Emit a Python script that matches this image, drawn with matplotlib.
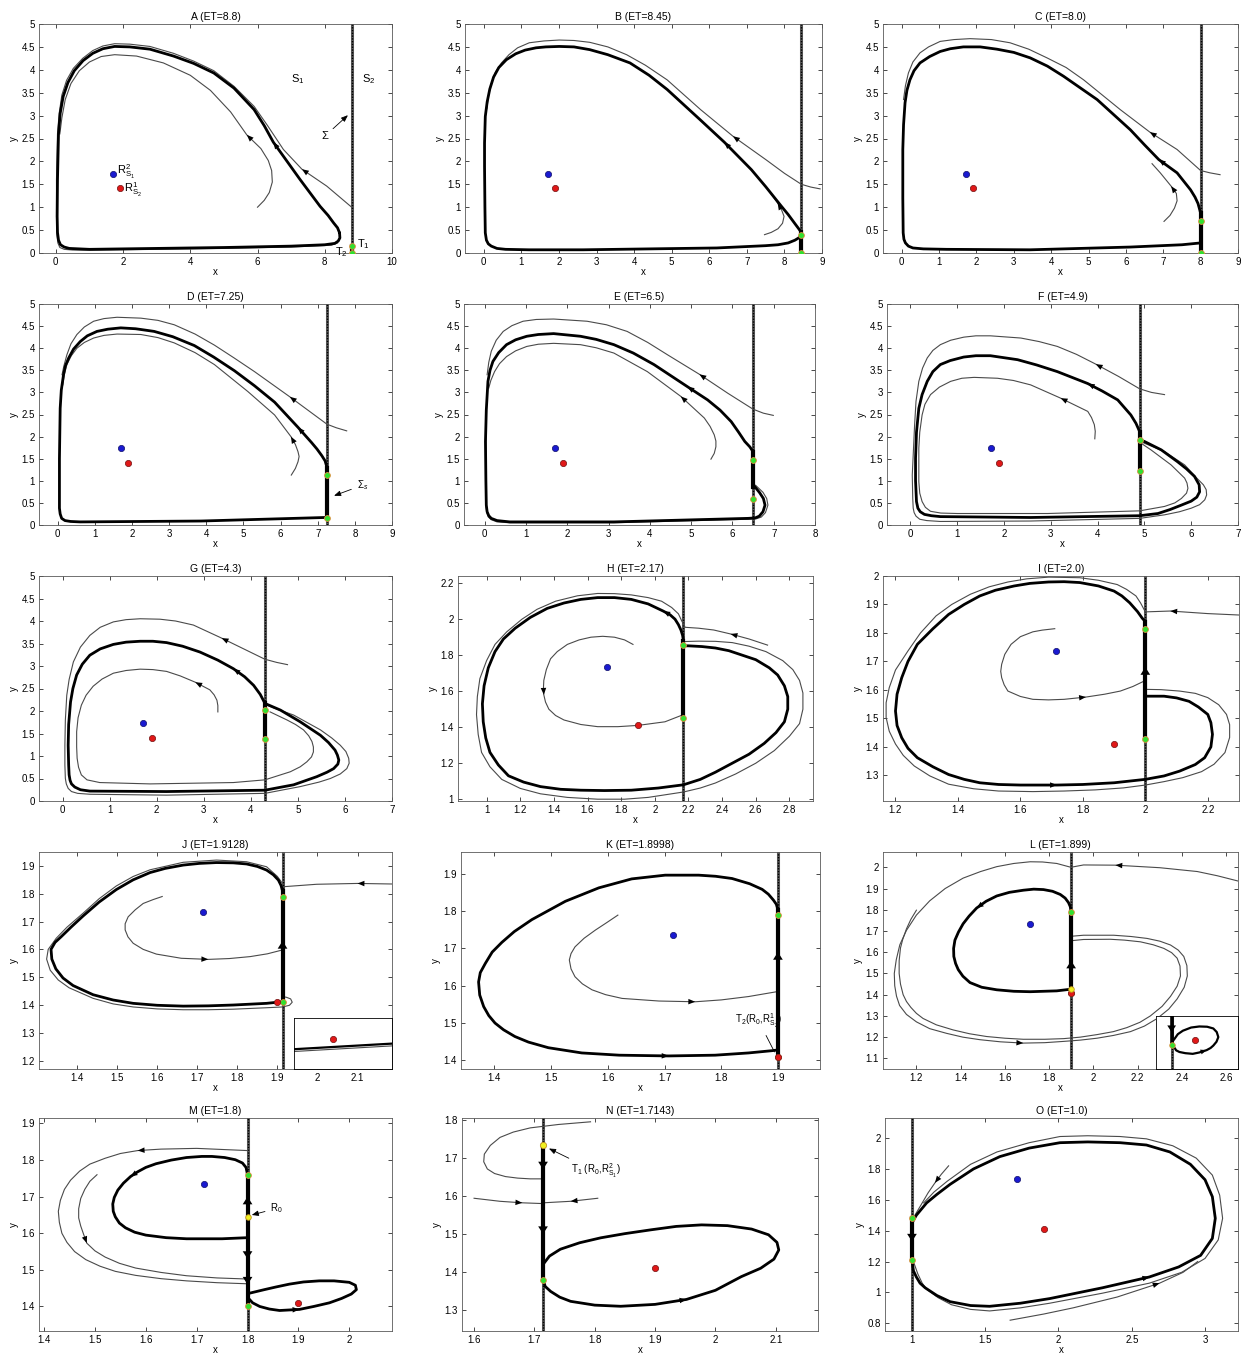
import matplotlib
matplotlib.use("Agg")
import matplotlib.pyplot as plt
from matplotlib.ticker import FuncFormatter

plt.rcParams['font.family'] = ['Liberation Sans', 'DejaVu Sans']
plt.rcParams['mathtext.fontset'] = 'custom'
plt.rcParams['mathtext.rm'] = 'Liberation Sans'
plt.rcParams['mathtext.it'] = 'Liberation Sans:italic'

# equilibria (blue = R_S1, red = R_S2)
R_S1 = (1.715, 1.735)
R_S2 = (1.9, 1.41)

Y05 = [0, 0.5, 1, 1.5, 2, 2.5, 3, 3.5, 4, 4.5, 5]

# ---------------- A ----------------
A_ET = 8.8
A_cycle = [(8.44, 0.44), (8.38, 0.55), (8.26, 0.66), (8.1, 0.82), (7.86, 1.02), (7.27, 1.6), (6.47, 2.42),
           (6.2, 2.78), (5.9, 3.13), (5.3, 3.6), (4.7, 3.93), (4.1, 4.14), (3.5, 4.3), (2.8, 4.45), (2.2, 4.5),
           (1.75, 4.51), (1.4, 4.46), (1.1, 4.36), (0.81, 4.2), (0.55, 3.98), (0.36, 3.72), (0.22, 3.42),
           (0.13, 3.05), (0.08, 2.6), (0.05, 1.6), (0.04, 0.8), (0.05, 0.45), (0.08, 0.28), (0.14, 0.18),
           (0.25, 0.13), (0.4, 0.1), (0.7, 0.09), (1.0, 0.08), (3.0, 0.1), (5.0, 0.12), (7.0, 0.15),
           (8.0, 0.18), (8.3, 0.21), (8.4, 0.26), (8.45, 0.33), (8.44, 0.44)]
A_outer = [(8.8, 1.0), (8.06, 1.46), (7.32, 1.83), (6.77, 2.26), (6.3, 2.78), (5.9, 3.2), (5.3, 3.64),
           (4.7, 3.98), (4.1, 4.19), (3.5, 4.36), (2.8, 4.51), (2.2, 4.56), (1.75, 4.57), (1.4, 4.52),
           (1.1, 4.42), (0.8, 4.25), (0.52, 4.03), (0.32, 3.77), (0.18, 3.45), (0.1, 3.05), (0.05, 2.6),
           (0.02, 1.6), (0.02, 0.8), (0.03, 0.42), (0.06, 0.22), (0.12, 0.12), (0.25, 0.08), (0.5, 0.065),
           (1.0, 0.06), (3.0, 0.08), (5.0, 0.1), (7.0, 0.13), (8.2, 0.17), (8.38, 0.22)]
A_inner = [(6.0, 1.0), (6.2, 1.15), (6.35, 1.32), (6.44, 1.55), (6.42, 1.8), (6.32, 2.02), (6.1, 2.28),
           (5.68, 2.58), (5.2, 3.08), (4.6, 3.55), (4.0, 3.88), (3.2, 4.15), (2.4, 4.3), (1.75, 4.33),
           (1.35, 4.29), (1.0, 4.17), (0.7, 3.98), (0.45, 3.7), (0.28, 3.35), (0.18, 2.95), (0.12, 2.6)]
A_slide = [(8.8, 0.0), (8.8, 0.15)]
A_green = [(8.8, 0.15), (8.8, 0.0)]

# ---------------- B ----------------
B_ET = 8.45
B_cycle = [(8.45, 0.45), (8.38, 0.53), (8.28, 0.64), (8.1, 0.84), (7.92, 1.02), (7.5, 1.45), (7.12, 1.82),
           (6.4, 2.42), (5.77, 2.9), (4.88, 3.57), (4.4, 3.88), (3.89, 4.15), (3.3, 4.33), (2.82, 4.44),
           (2.4, 4.5), (2.01, 4.51), (1.65, 4.5), (1.39, 4.48), (1.1, 4.43), (0.85, 4.35), (0.6, 4.22),
           (0.4, 4.05), (0.26, 3.84), (0.16, 3.58), (0.09, 3.3), (0.04, 2.98), (0.02, 2.4), (0.02, 1.89),
           (0.03, 1.0), (0.04, 0.44), (0.07, 0.28), (0.12, 0.2), (0.2, 0.15), (0.35, 0.1), (0.58, 0.08),
           (1.2, 0.07), (2.64, 0.07), (6.2, 0.11), (7.5, 0.16), (7.83, 0.18), (8.1, 0.22), (8.28, 0.28),
           (8.38, 0.33), (8.45, 0.4)]
B_outer = [(8.95, 1.4), (8.7, 1.44), (8.45, 1.5), (8.0, 1.74), (7.52, 2.03), (6.63, 2.55), (5.77, 3.13),
           (4.88, 3.78), (4.3, 4.1), (3.8, 4.33), (3.3, 4.5), (2.82, 4.6), (2.4, 4.64), (2.01, 4.65),
           (1.6, 4.63), (1.21, 4.59), (0.9, 4.48), (0.67, 4.33), (0.47, 4.15), (0.31, 3.95), (0.2, 3.7),
           (0.13, 3.45), (0.08, 3.15)]
B_inner = [(7.47, 0.4), (7.65, 0.45), (7.83, 0.53), (7.95, 0.65), (7.99, 0.8), (7.92, 0.95), (7.82, 1.09),
           (7.62, 1.32)]
B_slide = [(8.45, 0.0), (8.45, 0.45)]
B_green = [(8.45, 0.4), (8.45, 0.0)]

# ---------------- C ----------------
C_ET = 8.0
C_cycle = [(8.0, 0.87), (7.93, 1.08), (7.85, 1.22), (7.73, 1.38), (7.37, 1.75), (6.88, 2.04), (6.5, 2.36),
           (6.12, 2.69), (5.23, 3.35), (4.33, 3.86), (3.9, 4.08), (3.44, 4.26), (3.0, 4.38), (2.55, 4.45),
           (2.1, 4.5), (1.65, 4.5), (1.3, 4.46), (1.03, 4.4), (0.75, 4.29), (0.49, 4.15), (0.33, 3.98),
           (0.22, 3.78), (0.14, 3.55), (0.09, 3.28), (0.05, 2.8), (0.03, 2.26), (0.03, 1.2), (0.04, 0.44),
           (0.06, 0.3), (0.1, 0.22), (0.18, 0.15), (0.3, 0.11), (0.58, 0.09), (1.2, 0.08), (3.44, 0.07),
           (6.12, 0.13), (7.5, 0.18), (8.0, 0.22)]
C_outer = [(8.52, 1.71), (8.25, 1.75), (8.0, 1.8), (7.37, 2.26), (6.64, 2.64), (5.85, 3.13), (4.87, 3.78),
           (4.4, 4.05), (3.89, 4.26), (3.4, 4.45), (2.9, 4.59), (2.4, 4.66), (1.83, 4.68), (1.4, 4.66),
           (1.03, 4.62), (0.72, 4.5), (0.49, 4.37), (0.3, 4.17), (0.18, 3.93), (0.1, 3.65), (0.05, 3.35)]
C_inner = [(7.02, 0.69), (7.18, 0.82), (7.3, 0.98), (7.37, 1.14), (7.35, 1.3), (7.21, 1.46), (6.92, 1.75),
           (6.7, 1.95)]
C_slide = [(8.0, 0.0), (8.0, 0.87)]
C_green = [(8.0, 0.7), (8.0, 0.0)]

# ---------------- D ----------------
D_ET = 7.25
D_cycle = [(7.25, 1.3), (7.2, 1.45), (7.11, 1.57), (6.98, 1.72), (6.83, 1.87), (6.47, 2.21), (5.84, 2.78),
           (5.3, 3.15), (4.76, 3.49), (4.2, 3.8), (3.68, 4.06), (3.1, 4.26), (2.6, 4.38), (2.1, 4.44),
           (1.7, 4.46), (1.35, 4.43), (1.06, 4.38), (0.8, 4.28), (0.61, 4.15), (0.43, 3.98), (0.3, 3.78),
           (0.21, 3.6), (0.16, 3.4), (0.1, 3.05), (0.07, 2.64), (0.05, 1.5), (0.05, 0.38), (0.07, 0.25),
           (0.11, 0.15), (0.2, 0.1), (0.35, 0.08), (0.61, 0.07), (3.86, 0.09), (7.2, 0.17), (7.25, 0.17)]
D_outer = [(7.78, 2.13), (7.5, 2.2), (7.25, 2.28), (6.25, 2.9), (5.3, 3.47), (4.75, 3.78), (4.22, 4.07),
           (3.7, 4.32), (3.14, 4.53), (2.7, 4.63), (2.24, 4.68), (1.6, 4.7), (1.25, 4.67), (0.97, 4.61),
           (0.72, 4.48), (0.52, 4.31), (0.36, 4.1), (0.25, 3.85), (0.17, 3.6), (0.12, 3.4)]
D_inner = [(6.29, 1.13), (6.4, 1.28), (6.47, 1.43), (6.5, 1.55), (6.47, 1.66), (6.4, 1.82), (6.28, 2.0),
           (5.84, 2.49), (5.12, 3.02), (4.22, 3.63), (3.7, 3.9), (3.14, 4.12), (2.7, 4.24), (2.24, 4.31),
           (1.6, 4.32), (1.25, 4.29), (0.97, 4.23), (0.72, 4.13), (0.52, 4.0), (0.37, 3.83), (0.25, 3.63),
           (0.18, 3.4), (0.14, 3.17)]
D_slide = [(7.25, 0.15), (7.25, 1.3)]
D_green = [(7.25, 1.13), (7.25, 0.15)]

# ---------------- E ----------------
E_ET = 6.5
E_cycle = [(6.5, 1.66), (6.42, 1.77), (6.3, 1.89), (6.15, 2.1), (5.97, 2.34), (5.7, 2.6), (5.4, 2.83),
           (4.91, 3.13), (4.1, 3.63), (3.6, 3.89), (3.13, 4.08), (2.7, 4.2), (2.32, 4.27), (1.67, 4.33),
           (1.3, 4.31), (1.02, 4.27), (0.75, 4.19), (0.53, 4.08), (0.34, 3.9), (0.2, 3.7), (0.13, 3.5),
           (0.08, 3.25), (0.04, 2.6), (0.02, 1.89), (0.03, 1.0), (0.04, 0.45), (0.06, 0.3), (0.1, 0.21),
           (0.16, 0.15), (0.3, 0.1), (0.61, 0.07), (3.13, 0.07), (6.38, 0.15), (6.55, 0.16), (6.65, 0.2),
           (6.74, 0.3), (6.79, 0.45), (6.75, 0.6), (6.66, 0.73), (6.54, 0.87), (6.5, 0.9)]
E_outer = [(6.99, 2.48), (6.75, 2.53), (6.5, 2.62), (5.89, 2.98), (5.2, 3.41), (4.43, 3.85), (3.95, 4.13),
           (3.45, 4.38), (2.95, 4.53), (2.48, 4.61), (1.67, 4.66), (1.25, 4.65), (0.93, 4.61), (0.66, 4.51),
           (0.45, 4.38), (0.28, 4.18), (0.16, 3.93), (0.1, 3.68), (0.06, 3.4)]
E_inner = [(5.48, 1.49), (5.56, 1.62), (5.6, 1.77), (5.6, 1.9), (5.56, 2.04), (5.46, 2.23), (5.32, 2.42),
           (4.75, 2.91), (3.94, 3.47), (3.13, 3.89), (2.7, 4.01), (2.32, 4.08), (1.67, 4.11), (1.3, 4.09),
           (1.02, 4.04), (0.75, 3.94), (0.53, 3.81), (0.36, 3.65), (0.24, 3.47), (0.15, 3.27), (0.1, 3.1)]
E_halo = [(0.03, 2.0), (0.03, 0.45), (0.05, 0.28), (0.09, 0.18), (0.16, 0.12), (0.3, 0.07), (0.61, 0.05),
          (3.13, 0.05), (6.38, 0.13), (6.58, 0.14), (6.7, 0.18), (6.8, 0.28), (6.86, 0.45), (6.83, 0.6),
          (6.74, 0.74), (6.56, 0.9)]
E_slide = [(6.5, 0.87), (6.5, 1.66)]
E_green = [(6.5, 1.48), (6.5, 0.58)]

# ---------------- F ----------------
F_ET = 4.9
F_cycle = [(4.9, 2.11), (4.82, 2.3), (4.71, 2.49), (4.43, 2.83), (4.1, 3.03), (3.79, 3.2), (3.14, 3.47),
           (2.7, 3.62), (2.29, 3.74), (1.71, 3.83), (1.4, 3.83), (1.14, 3.8), (0.85, 3.72), (0.64, 3.63),
           (0.48, 3.47), (0.36, 3.25), (0.25, 2.95), (0.18, 2.64), (0.13, 2.1), (0.11, 1.51), (0.11, 1.0),
           (0.13, 0.53), (0.16, 0.38), (0.21, 0.3), (0.3, 0.24), (0.45, 0.21), (0.64, 0.19), (2.57, 0.17),
           (4.9, 0.21), (5.29, 0.26), (5.55, 0.35), (5.79, 0.45), (6.0, 0.54), (6.12, 0.63), (6.18, 0.75),
           (6.17, 0.91), (6.07, 1.1), (5.9, 1.27), (5.71, 1.43), (5.36, 1.7), (5.0, 1.89), (4.9, 1.93)]
F_outer = [(5.43, 2.95), (5.15, 3.0), (4.9, 3.08), (4.45, 3.36), (3.96, 3.64), (3.55, 3.86), (3.14, 4.04),
           (2.75, 4.15), (2.36, 4.23), (1.71, 4.28), (1.4, 4.28), (1.14, 4.25), (0.86, 4.18), (0.64, 4.08),
           (0.48, 3.95), (0.36, 3.78), (0.26, 3.55), (0.18, 3.25), (0.12, 2.8), (0.09, 2.27), (0.04, 1.13),
           (0.05, 0.6), (0.06, 0.38), (0.08, 0.28), (0.12, 0.2), (0.2, 0.13), (0.35, 0.1), (0.64, 0.08),
           (2.57, 0.09), (4.9, 0.15), (5.43, 0.23), (5.75, 0.3), (6.0, 0.38), (6.18, 0.46), (6.29, 0.57),
           (6.33, 0.68), (6.32, 0.8), (6.26, 0.91), (6.12, 1.06), (5.86, 1.36), (5.43, 1.66), (5.0, 1.85),
           (4.9, 1.9)]
F_inner = [(3.94, 1.95), (3.95, 2.12), (3.93, 2.27), (3.87, 2.43), (3.79, 2.57), (3.21, 2.87), (2.57, 3.17),
           (2.2, 3.27), (1.86, 3.32), (1.36, 3.34), (1.1, 3.32), (0.86, 3.25), (0.62, 3.12), (0.43, 2.95),
           (0.31, 2.73), (0.25, 2.49), (0.2, 2.1), (0.18, 1.74), (0.18, 0.98), (0.2, 0.72), (0.25, 0.53),
           (0.32, 0.4), (0.43, 0.31), (0.65, 0.27), (1.0, 0.26), (2.93, 0.26), (4.9, 0.32), (5.43, 0.42),
           (5.65, 0.5), (5.79, 0.6), (5.9, 0.72), (5.93, 0.83), (5.91, 0.95), (5.86, 1.06), (5.57, 1.36),
           (5.14, 1.7), (4.93, 1.85)]
F_slide = [(4.9, 1.23), (4.9, 2.11)]
F_green = [(4.9, 1.93), (4.9, 1.23)]

# ---------------- G ----------------
G_ET = 4.3
G_cycle = [(4.3, 2.17), (4.2, 2.37), (4.06, 2.57), (3.87, 2.76), (3.63, 2.94), (3.3, 3.13), (2.92, 3.31),
           (2.55, 3.44), (2.21, 3.52), (1.92, 3.55), (1.65, 3.55), (1.35, 3.53), (1.08, 3.48), (0.8, 3.38),
           (0.58, 3.24), (0.42, 3.04), (0.3, 2.8), (0.22, 2.5), (0.17, 2.2), (0.13, 1.7), (0.12, 1.24),
           (0.13, 0.8), (0.14, 0.58), (0.16, 0.46), (0.19, 0.38), (0.26, 0.31), (0.38, 0.25), (0.58, 0.22),
           (2.21, 0.21), (4.3, 0.24), (4.91, 0.36), (5.4, 0.54), (5.62, 0.64), (5.76, 0.72), (5.85, 0.82),
           (5.87, 0.91), (5.84, 1.02), (5.79, 1.13), (5.65, 1.3), (5.48, 1.46), (5.05, 1.76), (4.63, 2.02),
           (4.34, 2.15), (4.3, 2.17)]
G_outer = [(4.78, 3.03), (4.55, 3.08), (4.3, 3.15), (3.85, 3.38), (3.38, 3.62), (2.78, 3.91), (2.4, 4.0),
           (2.07, 4.04), (1.65, 4.05), (1.35, 4.03), (1.08, 3.98), (0.8, 3.86), (0.58, 3.68), (0.38, 3.42),
           (0.23, 3.09), (0.14, 2.7), (0.09, 2.35), (0.06, 1.8), (0.05, 1.24), (0.05, 0.8), (0.06, 0.5),
           (0.08, 0.38), (0.12, 0.28), (0.19, 0.21), (0.32, 0.17), (0.58, 0.15), (2.21, 0.13), (4.3, 0.17),
           (5.05, 0.32), (5.45, 0.42), (5.69, 0.5), (5.9, 0.6), (6.04, 0.72), (6.09, 0.84), (6.08, 0.95),
           (6.02, 1.1), (5.9, 1.24), (5.72, 1.4), (5.48, 1.58), (4.91, 1.91), (4.48, 2.07), (4.34, 2.13)]
G_inner = [(3.3, 1.98), (3.3, 2.12), (3.28, 2.24), (3.22, 2.36), (3.13, 2.47), (2.82, 2.64), (2.5, 2.78),
           (2.21, 2.88), (1.92, 2.92), (1.65, 2.93), (1.35, 2.9), (1.08, 2.84), (0.84, 2.71), (0.65, 2.55),
           (0.5, 2.35), (0.4, 2.13), (0.33, 1.85), (0.3, 1.54), (0.3, 1.2), (0.31, 0.95), (0.34, 0.75),
           (0.4, 0.58), (0.52, 0.47), (0.79, 0.41), (1.86, 0.38), (3.63, 0.41), (4.3, 0.47), (4.84, 0.65),
           (5.05, 0.76), (5.19, 0.87), (5.29, 0.98), (5.33, 1.09), (5.33, 1.2), (5.3, 1.32), (5.23, 1.45),
           (5.12, 1.58), (4.95, 1.7), (4.77, 1.8), (4.41, 1.98)]
G_slide = [(4.3, 1.37), (4.3, 2.17)]
G_green = [(4.3, 2.02), (4.3, 1.37)]

# ---------------- H ----------------
H_ET = 2.17
H_cycle = [(2.17, 1.88), (2.165, 1.91), (2.155, 1.94), (2.14, 1.97), (2.12, 2.0), (2.09, 2.025), (2.05, 2.045),
           (1.96, 2.085), (1.86, 2.11), (1.76, 2.12), (1.66, 2.12), (1.56, 2.11), (1.46, 2.09), (1.36, 2.06),
           (1.26, 2.01), (1.17, 1.95), (1.1, 1.89), (1.05, 1.82), (1.01, 1.73), (0.985, 1.63), (0.975, 1.53),
           (0.98, 1.43), (0.995, 1.34), (1.02, 1.26), (1.07, 1.19), (1.13, 1.13), (1.22, 1.095), (1.32, 1.07),
           (1.44, 1.055), (1.56, 1.05), (1.7, 1.048), (1.86, 1.05), (2.02, 1.062), (2.17, 1.08), (2.27, 1.11),
           (2.36, 1.15), (2.46, 1.2), (2.56, 1.25), (2.65, 1.31), (2.72, 1.37), (2.77, 1.43), (2.79, 1.5),
           (2.79, 1.57), (2.77, 1.63), (2.73, 1.69), (2.68, 1.73), (2.6, 1.775), (2.52, 1.8), (2.44, 1.825),
           (2.36, 1.84), (2.28, 1.848), (2.2, 1.852), (2.17, 1.852)]
H_incoming = [(2.67, 1.856), (2.56, 1.89), (2.45, 1.918), (2.35, 1.94), (2.26, 1.95), (2.18, 1.955),
              (2.16, 1.99), (2.14, 2.03), (2.1, 2.065), (2.04, 2.1), (1.96, 2.12), (1.86, 2.135),
              (1.76, 2.142), (1.66, 2.143), (1.54, 2.13), (1.41, 2.1), (1.3, 2.055), (1.21, 2.0), (1.12, 1.93),
              (1.05, 1.86), (1.0, 1.77), (0.96, 1.67), (0.945, 1.57), (0.94, 1.47), (0.95, 1.36), (0.97, 1.26),
              (1.02, 1.18), (1.09, 1.11), (1.2, 1.06), (1.32, 1.03), (1.48, 1.01), (1.66, 1.0), (1.82, 1.0),
              (1.96, 1.01), (2.17, 1.04), (2.27, 1.062), (2.36, 1.09), (2.48, 1.14), (2.6, 1.2), (2.71, 1.27),
              (2.8, 1.35), (2.86, 1.42), (2.88, 1.5), (2.88, 1.59), (2.86, 1.66), (2.82, 1.72), (2.76, 1.77),
              (2.66, 1.82), (2.56, 1.85), (2.46, 1.87), (2.36, 1.877), (2.26, 1.878), (2.18, 1.876)]
H_inner = [(1.87, 1.86), (1.82, 1.885), (1.76, 1.9), (1.69, 1.905), (1.62, 1.9), (1.55, 1.885), (1.48, 1.86),
           (1.42, 1.82), (1.38, 1.78), (1.355, 1.72), (1.34, 1.66), (1.338, 1.62), (1.34, 1.58), (1.35, 1.54),
           (1.37, 1.5), (1.41, 1.465), (1.46, 1.44), (1.56, 1.415), (1.66, 1.403), (1.78, 1.403), (1.9, 1.41),
           (2.06, 1.43), (2.17, 1.47)]
H_slide = [(2.17, 1.45), (2.17, 1.88)]
H_green = [(2.17, 1.855), (2.17, 1.45)]

# ---------------- I ----------------
I_ET = 2.0
I_cycle = [(2.0, 1.84), (1.99, 1.852), (1.975, 1.875), (1.95, 1.906), (1.925, 1.93), (1.9, 1.947), (1.85, 1.965),
           (1.79, 1.977), (1.74, 1.98), (1.69, 1.979), (1.63, 1.974), (1.58, 1.965), (1.52, 1.95), (1.47, 1.93),
           (1.42, 1.9), (1.37, 1.865), (1.32, 1.815), (1.27, 1.76), (1.24, 1.7), (1.22, 1.643), (1.205, 1.585),
           (1.2, 1.526), (1.205, 1.475), (1.22, 1.432), (1.24, 1.395), (1.27, 1.362), (1.32, 1.33), (1.37, 1.303),
           (1.42, 1.286), (1.47, 1.274), (1.53, 1.268), (1.6, 1.266), (1.717, 1.266), (1.8, 1.268), (1.9, 1.274),
           (2.0, 1.286), (2.06, 1.298), (2.11, 1.315), (2.16, 1.338), (2.19, 1.362), (2.21, 1.4), (2.215, 1.444),
           (2.21, 1.485), (2.2, 1.514), (2.17, 1.54), (2.14, 1.56), (2.1, 1.572), (2.06, 1.578), (2.0, 1.578)]
I_outer = [(2.3, 1.863), (2.2, 1.868), (2.08, 1.877), (2.0, 1.874), (1.985, 1.905), (1.97, 1.93), (1.94, 1.953),
           (1.91, 1.97), (1.85, 1.985), (1.79, 1.994), (1.69, 1.996), (1.62, 1.99), (1.56, 1.979), (1.5, 1.962),
           (1.44, 1.936), (1.38, 1.9), (1.33, 1.86), (1.28, 1.8), (1.24, 1.737), (1.2, 1.67), (1.18, 1.608),
           (1.17, 1.555), (1.17, 1.503), (1.18, 1.455), (1.2, 1.41), (1.225, 1.37), (1.26, 1.333), (1.31, 1.298),
           (1.37, 1.269), (1.45, 1.253), (1.53, 1.245), (1.64, 1.243), (1.74, 1.245), (1.84, 1.249), (1.93, 1.256),
           (2.0, 1.266), (2.06, 1.278), (2.12, 1.292), (2.18, 1.313), (2.22, 1.339), (2.255, 1.38), (2.27, 1.433),
           (2.27, 1.478), (2.26, 1.514), (2.235, 1.548), (2.2, 1.573), (2.16, 1.588), (2.11, 1.596), (2.05, 1.601),
           (2.0, 1.602)]
I_inner = [(1.71, 1.815), (1.67, 1.81), (1.64, 1.804), (1.6, 1.787), (1.57, 1.76), (1.55, 1.725), (1.54, 1.69),
           (1.537, 1.665), (1.54, 1.643), (1.548, 1.618), (1.56, 1.596), (1.6, 1.577), (1.64, 1.567), (1.69, 1.565),
           (1.74, 1.567), (1.81, 1.575), (1.87, 1.585), (1.92, 1.596), (1.96, 1.612), (2.0, 1.633)]
I_slide = [(2.0, 1.427), (2.0, 1.84)]
I_green = [(2.0, 1.814), (2.0, 1.427)]

# ---------------- J ----------------
J_ET = 1.9128
J_cycle = [(1.9128, 1.81), (1.909, 1.83), (1.9025, 1.849), (1.89, 1.868), (1.873, 1.885), (1.85, 1.898),
           (1.823, 1.907), (1.79, 1.911), (1.748, 1.912), (1.705, 1.909), (1.665, 1.903), (1.62, 1.891),
           (1.582, 1.876), (1.54, 1.85), (1.498, 1.815), (1.455, 1.77), (1.415, 1.72), (1.385, 1.68),
           (1.36, 1.645), (1.345, 1.625), (1.335, 1.6), (1.337, 1.565), (1.347, 1.53), (1.365, 1.497),
           (1.39, 1.47), (1.44, 1.437), (1.49, 1.418), (1.54, 1.406), (1.6, 1.399), (1.665, 1.396),
           (1.7275, 1.397), (1.79, 1.4), (1.873, 1.406), (1.9128, 1.412)]
J_halo = [(1.9128, 1.837), (1.9, 1.862), (1.873, 1.897), (1.823, 1.915), (1.748, 1.921), (1.665, 1.913),
          (1.582, 1.886), (1.54, 1.862), (1.498, 1.828), (1.455, 1.782), (1.415, 1.73), (1.375, 1.68),
          (1.348, 1.64), (1.328, 1.6), (1.324, 1.565), (1.333, 1.525), (1.353, 1.49), (1.38, 1.462),
          (1.44, 1.424), (1.49, 1.404), (1.54, 1.393), (1.6, 1.386), (1.665, 1.383), (1.7275, 1.383),
          (1.79, 1.385), (1.87, 1.39), (1.9128, 1.393), (1.93, 1.399), (1.937, 1.41), (1.933, 1.422),
          (1.922, 1.428), (1.9128, 1.43)]
J_right = [(2.186, 1.835), (2.1, 1.837), (1.998, 1.834), (1.9128, 1.825)]
J_inner = [(1.6125, 1.79), (1.59, 1.779), (1.565, 1.765), (1.545, 1.742), (1.5275, 1.717), (1.52, 1.692),
           (1.52, 1.67), (1.527, 1.645), (1.54, 1.622), (1.565, 1.6), (1.598, 1.583), (1.66, 1.568),
           (1.7275, 1.564), (1.78, 1.567), (1.832, 1.574), (1.875, 1.584), (1.9128, 1.598)]
J_slide = [(1.9128, 1.41), (1.9128, 1.81)]
J_green = [(1.9128, 1.79), (1.9128, 1.41)]
J_zoom_thick = [(1.899, 1.40958), (1.9015, 1.4098)]
J_zoom_thin = [(1.899, 1.40949), (1.9015, 1.40971)]

# ---------------- K ----------------
K_ET = 1.8998
K_cycle = [(1.9, 1.802), (1.897, 1.818), (1.892, 1.829), (1.883, 1.845), (1.872, 1.858), (1.85, 1.873),
           (1.819, 1.887), (1.79, 1.893), (1.76, 1.896), (1.701, 1.896), (1.642, 1.886), (1.584, 1.862),
           (1.525, 1.826), (1.466, 1.777), (1.435, 1.745), (1.413, 1.716), (1.396, 1.69), (1.384, 1.66),
           (1.375, 1.635), (1.372, 1.61), (1.374, 1.575), (1.381, 1.544), (1.39, 1.52), (1.401, 1.5),
           (1.416, 1.482), (1.436, 1.464), (1.46, 1.449), (1.495, 1.434), (1.554, 1.42), (1.62, 1.414),
           (1.707, 1.412), (1.789, 1.414), (1.848, 1.42), (1.889, 1.426), (1.9, 1.428)]
K_inner = [(1.6176, 1.789), (1.598, 1.769), (1.578, 1.749), (1.558, 1.727), (1.542, 1.704), (1.535, 1.686),
           (1.532, 1.669), (1.535, 1.645), (1.542, 1.624), (1.555, 1.605), (1.572, 1.589), (1.596, 1.576),
           (1.625, 1.566), (1.69, 1.559), (1.754, 1.557), (1.8, 1.562), (1.848, 1.571), (1.898, 1.584)]
K_slide = [(1.8998, 1.41), (1.8998, 1.802)]
K_green = [(1.8998, 1.788), (1.8998, 1.41)]

# ---------------- L ----------------
L_ET = 1.899
L_cycle = [(1.899, 1.79), (1.895, 1.815), (1.887, 1.834), (1.872, 1.855), (1.85, 1.872), (1.815, 1.887),
           (1.774, 1.895), (1.73, 1.897), (1.683, 1.892), (1.62, 1.882), (1.563, 1.865), (1.515, 1.84),
           (1.472, 1.808), (1.438, 1.77), (1.411, 1.734), (1.39, 1.695), (1.374, 1.657), (1.368, 1.618),
           (1.369, 1.58), (1.377, 1.547), (1.389, 1.518), (1.41, 1.487), (1.442, 1.457), (1.495, 1.435),
           (1.563, 1.423), (1.64, 1.416), (1.714, 1.414), (1.834, 1.418), (1.899, 1.426)]
L_outer = [(2.658, 1.934), (2.56, 1.96), (2.469, 1.98), (2.3, 1.998), (2.099, 2.01), (1.955, 2.011),
           (1.898, 2.0), (1.834, 2.018), (1.77, 2.025), (1.714, 2.026), (1.64, 2.018), (1.563, 2.003),
           (1.49, 1.98), (1.411, 1.949), (1.33, 1.9), (1.26, 1.842), (1.2, 1.775), (1.155, 1.703),
           (1.125, 1.635), (1.109, 1.565), (1.1, 1.5), (1.102, 1.442), (1.11, 1.393), (1.124, 1.349),
           (1.155, 1.307), (1.2, 1.272), (1.26, 1.24), (1.336, 1.218), (1.41, 1.2), (1.487, 1.188),
           (1.58, 1.178), (1.683, 1.172), (1.78, 1.174), (1.865, 1.18), (1.94, 1.186), (2.016, 1.195),
           (2.09, 1.208), (2.167, 1.226), (2.23, 1.252), (2.288, 1.288), (2.34, 1.332), (2.378, 1.38),
           (2.41, 1.435), (2.424, 1.488), (2.422, 1.537), (2.408, 1.58), (2.383, 1.61), (2.348, 1.634),
           (2.3, 1.652), (2.242, 1.665), (2.17, 1.674), (2.091, 1.68), (1.955, 1.68), (1.898, 1.675)]
L_second = [(1.2, 1.798), (1.175, 1.755), (1.155, 1.71), (1.138, 1.66), (1.128, 1.62), (1.122, 1.56),
            (1.122, 1.5), (1.128, 1.45), (1.14, 1.4), (1.155, 1.368), (1.175, 1.34), (1.2, 1.312),
            (1.23, 1.288), (1.29, 1.258), (1.366, 1.234), (1.44, 1.216), (1.517, 1.203), (1.6, 1.195),
            (1.683, 1.19), (1.78, 1.19), (1.865, 1.193), (1.94, 1.2), (2.016, 1.212), (2.09, 1.226),
            (2.151, 1.245), (2.21, 1.27), (2.257, 1.3), (2.31, 1.345), (2.348, 1.392), (2.378, 1.44),
            (2.393, 1.488), (2.391, 1.535), (2.378, 1.572), (2.353, 1.598), (2.318, 1.618), (2.27, 1.635),
            (2.212, 1.649), (2.14, 1.657), (2.076, 1.661), (1.955, 1.66), (1.898, 1.654)]
L_slide = [(1.899, 1.41), (1.899, 1.79)]
L_green = [(1.899, 1.788), (1.899, 1.41)]
L_zoom_loop = [(1.899, 1.4097), (1.89905, 1.40955), (1.89913, 1.40938), (1.8992, 1.4092), (1.89934, 1.40908),
               (1.8996, 1.40899), (1.89992, 1.40894), (1.9002, 1.40904), (1.90053, 1.40922), (1.9007, 1.40938),
               (1.90082, 1.40956), (1.90096, 1.40985), (1.90104, 1.4102), (1.90097, 1.41058), (1.90082, 1.41085),
               (1.90055, 1.41098), (1.90021, 1.411), (1.89985, 1.41092), (1.89949, 1.41068), (1.89927, 1.41042),
               (1.89913, 1.41008), (1.89905, 1.4099)]
L_zoom_slide = [(1.899, 1.40964), (1.899, 1.4118)]

# ---------------- M ----------------
M_ET = 1.8
M_cycle = [(1.8, 1.76), (1.797, 1.78), (1.79, 1.792), (1.776, 1.801), (1.755, 1.807), (1.73, 1.81), (1.71, 1.81),
           (1.68, 1.807), (1.65, 1.8), (1.62, 1.79), (1.6, 1.78), (1.584, 1.768), (1.57, 1.755), (1.556, 1.737),
           (1.545, 1.718), (1.538, 1.698), (1.535, 1.68), (1.536, 1.66), (1.54, 1.645), (1.548, 1.628),
           (1.56, 1.615), (1.578, 1.603), (1.6, 1.595), (1.64, 1.588), (1.68, 1.585), (1.75, 1.585), (1.8, 1.588)]
M_lower = [(1.8, 1.425), (1.81, 1.41), (1.824, 1.4), (1.843, 1.393), (1.863, 1.389), (1.902, 1.392), (1.93, 1.4),
           (1.961, 1.41), (1.985, 1.422), (2.004, 1.434), (2.014, 1.446), (2.012, 1.458), (2.0, 1.466),
           (1.97, 1.47), (1.941, 1.47), (1.91, 1.467), (1.882, 1.461), (1.855, 1.453), (1.833, 1.446),
           (1.815, 1.44), (1.8, 1.435)]
M_thin1 = [(1.8, 1.826), (1.7, 1.832), (1.63, 1.83), (1.584, 1.826), (1.55, 1.818), (1.52, 1.805), (1.49, 1.789),
           (1.47, 1.77), (1.452, 1.745), (1.44, 1.72), (1.432, 1.69), (1.428, 1.66), (1.43, 1.63), (1.435, 1.6),
           (1.445, 1.575), (1.46, 1.55), (1.482, 1.528), (1.51, 1.51), (1.54, 1.496), (1.58, 1.485),
           (1.63, 1.476), (1.68, 1.47), (1.74, 1.465), (1.8, 1.462)]
M_thin2 = [(1.504, 1.76), (1.49, 1.742), (1.48, 1.72), (1.472, 1.695), (1.468, 1.667), (1.468, 1.642),
           (1.472, 1.62), (1.478, 1.596), (1.484, 1.573), (1.5, 1.552), (1.52, 1.535), (1.548, 1.518),
           (1.58, 1.505), (1.63, 1.493), (1.68, 1.484), (1.74, 1.478), (1.8, 1.475)]
M_slide = [(1.8, 1.40), (1.8, 1.76)]
M_green = [(1.8, 1.76), (1.8, 1.40)]
M_R0 = (1.8, 1.645)

# ---------------- N ----------------
N_ET = 1.7143
N_ellipse = [(1.7143, 1.38), (1.718, 1.362), (1.727, 1.349), (1.742, 1.334), (1.76, 1.323), (1.8, 1.313),
             (1.843, 1.31), (1.9, 1.315), (1.952, 1.328), (2.0, 1.352), (2.043, 1.388), (2.075, 1.41),
             (2.097, 1.434), (2.105, 1.458), (2.102, 1.478), (2.088, 1.498), (2.06, 1.513), (2.02, 1.522),
             (1.977, 1.524), (1.935, 1.52), (1.893, 1.511), (1.85, 1.501), (1.81, 1.49), (1.775, 1.477),
             (1.743, 1.46), (1.725, 1.442), (1.7143, 1.42)]
N_top = [(1.793, 1.795), (1.74, 1.788), (1.693, 1.779), (1.665, 1.768), (1.643, 1.754), (1.627, 1.733),
         (1.617, 1.71), (1.616, 1.69), (1.622, 1.671), (1.634, 1.659), (1.652, 1.651), (1.672, 1.647),
         (1.693, 1.645), (1.7143, 1.645)]
N_mid_left = [(1.6, 1.594), (1.643, 1.586), (1.68, 1.582), (1.7143, 1.58)]
N_mid_right = [(1.805, 1.594), (1.76, 1.586), (1.7143, 1.582)]
N_slide = [(1.7143, 1.38), (1.7143, 1.735)]
N_green = [(1.7143, 1.38)]
N_T1 = (1.7143, 1.735)

# ---------------- O ----------------
O_ET = 1.0
O_cycle = [(1.0, 1.21), (1.01, 1.14), (1.03, 1.1), (1.055, 1.06), (1.09, 1.03), (1.17, 0.98), (1.26, 0.94),
           (1.4, 0.915), (1.53, 0.91), (1.74, 0.93), (1.94, 0.96), (2.3, 1.03), (2.62, 1.1), (2.82, 1.165),
           (2.97, 1.24), (3.05, 1.35), (3.07, 1.48), (3.05, 1.62), (3.0, 1.73), (2.9, 1.83), (2.76, 1.91),
           (2.6, 1.955), (2.42, 1.97), (2.2, 1.975), (2.01, 1.97), (1.8, 1.935), (1.6, 1.88), (1.42, 1.8),
           (1.26, 1.7), (1.17, 1.635), (1.1, 1.58), (1.03, 1.5), (1.0, 1.45)]
O_outer = [(1.0, 1.49), (1.0, 1.3), (1.01, 1.2), (1.04, 1.12), (1.07, 1.06), (1.1, 1.02), (1.18, 0.965),
           (1.27, 0.92), (1.4, 0.89), (1.53, 0.88), (1.74, 0.9), (1.94, 0.93), (2.3, 0.995), (2.62, 1.06),
           (2.84, 1.13), (3.0, 1.22), (3.09, 1.34), (3.12, 1.48), (3.1, 1.63), (3.05, 1.76), (2.94, 1.87),
           (2.78, 1.95), (2.6, 1.995), (2.42, 2.01), (2.2, 2.015), (2.01, 2.01), (1.8, 1.97), (1.58, 1.91),
           (1.4, 1.83), (1.24, 1.72), (1.15, 1.65), (1.08, 1.58)]
O_in_bottom = [(1.67, 0.82), (1.9, 0.86), (2.1, 0.9), (2.4, 0.97), (2.69, 1.06), (2.85, 1.13), (2.95, 1.2)]
O_in_top = [(1.25, 1.82), (1.2, 1.765), (1.157, 1.71), (1.11, 1.645), (1.07, 1.58), (1.02, 1.5)]
O_slide = [(1.0, 1.21), (1.0, 1.48)]
O_green = [(1.0, 1.48), (1.0, 1.21)]

# panel boxes in pixels: (left, top, right, bottom)
BOXES = [(39, 24, 392, 253), (465, 24, 822, 253), (883, 24, 1238, 253),
         (39, 304, 392, 525), (464, 304, 815, 525), (887, 304, 1238, 525),
         (39, 576, 392, 801), (458, 576, 813, 801), (883, 576, 1239, 801),
         (39, 852, 392, 1069), (461, 852, 820, 1069), (883, 852, 1238, 1069),
         (39, 1118, 392, 1331), (462, 1118, 818, 1331), (885, 1118, 1238, 1331)]

PANELS = [
    dict(title='A (ET=8.8)', et=A_ET, xlim=(-0.5, 10), ylim=(0, 5), xt=[0, 2, 4, 6, 8, 10], yt=Y05,
         thick=[A_cycle], thin=[A_outer, A_inner], slide=A_slide, green=A_green,
         arrows=[(A_cycle, 6), (A_outer, 2), (A_inner, 7)], larrows=[]),
    dict(title='B (ET=8.45)', et=B_ET, xlim=(-0.5, 9), ylim=(0, 5), xt=list(range(10)), yt=Y05,
         thick=[B_cycle], thin=[B_outer, B_inner], slide=B_slide, green=B_green,
         arrows=[(B_cycle, 7), (B_outer, 5), (B_inner, 6)], larrows=[]),
    dict(title='C (ET=8.0)', et=C_ET, xlim=(-0.5, 9), ylim=(0, 5), xt=list(range(10)), yt=Y05,
         thick=[C_cycle], thin=[C_outer, C_inner], slide=C_slide, green=C_green,
         arrows=[(C_cycle, 5), (C_outer, 4), (C_inner, 5)], larrows=[]),
    dict(title='D (ET=7.25)', et=D_ET, xlim=(-0.5, 9), ylim=(0, 5), xt=list(range(10)), yt=Y05,
         thick=[D_cycle], thin=[D_outer, D_inner], slide=D_slide, green=D_green,
         arrows=[(D_cycle, 5), (D_outer, 3), (D_inner, 6)], larrows=[]),
    dict(title='E (ET=6.5)', et=E_ET, xlim=(-0.5, 8), ylim=(0, 5), xt=list(range(9)), yt=Y05,
         thick=[E_cycle], thin=[E_outer, E_inner, E_halo], slide=E_slide, green=E_green,
         arrows=[(E_cycle, 7), (E_outer, 4), (E_inner, 7)], larrows=[]),
    dict(title='F (ET=4.9)', et=F_ET, xlim=(-0.5, 7), ylim=(0, 5), xt=list(range(8)), yt=Y05,
         thick=[F_cycle], thin=[F_outer, F_inner], slide=F_slide, green=F_green,
         arrows=[(F_cycle, 5), (F_outer, 4), (F_inner, 5)], larrows=[]),
    dict(title='G (ET=4.3)', et=G_ET, xlim=(-0.5, 7), ylim=(0, 5), xt=list(range(8)), yt=Y05,
         thick=[G_cycle], thin=[G_outer, G_inner], slide=G_slide, green=G_green,
         arrows=[(G_cycle, 4), (G_outer, 4), (G_inner, 5)], larrows=[]),
    dict(title='H (ET=2.17)', et=H_ET, xlim=(0.83, 2.94), ylim=(0.99, 2.24),
         xt=[1, 1.2, 1.4, 1.6, 1.8, 2, 2.2, 2.4, 2.6, 2.8], yt=[1, 1.2, 1.4, 1.6, 1.8, 2, 2.2],
         thick=[H_cycle], thin=[H_incoming, H_inner], slide=H_slide, green=H_green,
         arrows=[(H_cycle, 6), (H_incoming, 2), (H_inner, 12)], larrows=[]),
    dict(title='I (ET=2.0)', et=I_ET, xlim=(1.16, 2.30), ylim=(1.21, 2.0),
         xt=[1.2, 1.4, 1.6, 1.8, 2, 2.2], yt=[1.3, 1.4, 1.5, 1.6, 1.7, 1.8, 1.9, 2],
         thick=[I_cycle], thin=[I_outer, I_inner], slide=I_slide, green=I_green,
         arrows=[(I_cycle, 32), (I_outer, 2), (I_inner, 15)], larrows=[(1.68, 1)]),
    dict(title='J (ET=1.9128)', et=J_ET, xlim=(1.305, 2.186), ylim=(1.17, 1.95),
         xt=[1.4, 1.5, 1.6, 1.7, 1.8, 1.9, 2, 2.1], yt=[1.2, 1.3, 1.4, 1.5, 1.6, 1.7, 1.8, 1.9],
         thick=[J_cycle], thin=[J_halo, J_right, J_inner], slide=J_slide, green=J_green,
         arrows=[(J_right, 1), (J_inner, 12)], larrows=[(1.63, 1)]),
    dict(title='K (ET=1.8998)', et=K_ET, xlim=(1.341, 1.974), ylim=(1.377, 1.958),
         xt=[1.4, 1.5, 1.6, 1.7, 1.8, 1.9], yt=[1.4, 1.5, 1.6, 1.7, 1.8, 1.9],
         thick=[K_cycle], thin=[K_inner], slide=K_slide, green=K_green,
         arrows=[(K_cycle, 30), (K_inner, 14)], larrows=[(1.69, 1)]),
    dict(title='L (ET=1.899)', et=L_ET, xlim=(1.049, 2.653), ylim=(1.05, 2.072),
         xt=[1.2, 1.4, 1.6, 1.8, 2, 2.2, 2.4, 2.6], yt=[1.1, 1.2, 1.3, 1.4, 1.5, 1.6, 1.7, 1.8, 1.9, 2],
         thick=[L_cycle], thin=[L_outer, L_second], slide=L_slide, green=L_green,
         arrows=[(L_cycle, 12), (L_outer, 4), (L_outer, 31)], larrows=[(1.56, 1)]),
    dict(title='M (ET=1.8)', et=M_ET, xlim=(1.39, 2.084), ylim=(1.333, 1.915),
         xt=[1.4, 1.5, 1.6, 1.7, 1.8, 1.9, 2], yt=[1.4, 1.5, 1.6, 1.7, 1.8, 1.9],
         thick=[M_cycle, M_lower], thin=[M_thin1, M_thin2], slide=M_slide, green=M_green,
         arrows=[(M_cycle, 12), (M_lower, 5), (M_thin1, 3), (M_thin2, 8)],
         larrows=[(1.70, 1), (1.53, -1), (1.46, -1)]),
    dict(title='N (ET=1.7143)', et=N_ET, xlim=(1.58, 2.17), ylim=(1.245, 1.805),
         xt=[1.6, 1.7, 1.8, 1.9, 2, 2.1], yt=[1.3, 1.4, 1.5, 1.6, 1.7, 1.8],
         thick=[N_ellipse], thin=[N_top, N_mid_left, N_mid_right], slide=N_slide, green=N_green,
         arrows=[(N_ellipse, 8), (N_mid_left, 2), (N_mid_right, 1)], larrows=[(1.67, -1), (1.5, -1)]),
    dict(title='O (ET=1.0)', et=O_ET, xlim=(0.816, 3.225), ylim=(0.75, 2.13),
         xt=[1, 1.5, 2, 2.5, 3], yt=[0.8, 1, 1.2, 1.4, 1.6, 1.8, 2],
         thick=[O_cycle], thin=[O_outer, O_in_bottom, O_in_top], slide=O_slide, green=O_green,
         arrows=[(O_cycle, 12), (O_in_bottom, 4), (O_in_top, 2)], larrows=[(1.33, -1)]),
]

W, H = 1242, 1358
GRAY = '#4a4a4a'
BLUE = '#1a1ad0'
RED = '#e01818'
GREEN = '#30e030'


def xy(pts):
    return [p[0] for p in pts], [p[1] for p in pts]


def head(ax, p0, p1, color='k', ms=9, width=0.22):
    ax.annotate('', xy=p1, xytext=p0, zorder=6,
                arrowprops=dict(arrowstyle='-|>,head_length=0.55,head_width=%g' % width, color=color,
                                lw=0, shrinkA=0, shrinkB=0, mutation_scale=ms))


def switching_line(ax, et):
    ax.axvline(et, color='0.35', lw=2.2, zorder=2)
    ax.axvline(et, color='k', lw=1.0, ls=(0, (1, 1)), zorder=2)


def style(ax, p):
    ax.set_xlim(p['xlim'])
    ax.set_ylim(p['ylim'])
    ax.set_xticks(p['xt'])
    ax.set_yticks(p['yt'])
    fmt = FuncFormatter(lambda v, _: '%g' % round(v, 4))
    ax.xaxis.set_major_formatter(fmt)
    ax.yaxis.set_major_formatter(fmt)
    ax.tick_params(direction='in', top=True, right=True, length=3, width=0.5, labelsize=7, pad=3)
    for s in ax.spines.values():
        s.set_linewidth(0.6)
        s.set_color('0.35')
    ax.set_title(p['title'], fontsize=7.5, pad=3)
    ax.set_xlabel('x', fontsize=7, labelpad=0)
    ax.set_ylabel('y', fontsize=7, labelpad=2)


fig = plt.figure(figsize=(W / 100, H / 100), dpi=100)
axes = []
for p, (l, t, r, b) in zip(PANELS, BOXES):
    ax = fig.add_axes([l / W, 1 - b / H, (r - l) / W, (b - t) / H])
    axes.append(ax)
    style(ax, p)
    switching_line(ax, p['et'])
    for c in p['thin']:
        ax.plot(*xy(c), color=GRAY, lw=0.8, zorder=3)
    for c in p['thick']:
        ax.plot(*xy(c), color='k', lw=2.0, zorder=4, solid_capstyle='round', solid_joinstyle='round')
    ax.plot(*xy(p['slide']), color='k', lw=3.0, zorder=4)
    for c, i in p['arrows']:
        head(ax, c[i - 1], c[i])
    span = p['ylim'][1] - p['ylim'][0]
    for y, d in p['larrows']:
        head(ax, (p['et'], y - d * 0.03 * span), (p['et'], y), ms=10, width=0.35)
    ax.plot(*xy(p['green']), 'o', ms=4.2, mfc=GREEN, mec='#e09040', mew=0.6, ls='none', zorder=7)
    if p['title'][0] != 'N':
        ax.plot(*R_S1, 'o', ms=4.5, mfc=BLUE, mec='#10106a', mew=0.5, zorder=7)
    ax.plot(*R_S2, 'o', ms=4.5, mfc=RED, mec='#701010', mew=0.5, zorder=7)

tk = dict(fontsize=8)
arr = dict(arrowstyle='-|>,head_length=0.5,head_width=0.2', color='k', lw=0.6, mutation_scale=8)

# A annotations
ax = axes[0]
ax.text(7.2, 3.8, 'S$_1$', ha='center', va='center', **tk)
ax.text(9.3, 3.8, 'S$_2$', ha='center', va='center', **tk)
ax.annotate('Σ', xy=(8.75, 3.05), xytext=(8.0, 2.55), ha='center', va='center', arrowprops=arr, **tk)
ax.text(1.83, 1.78, 'R$^2_{\\mathrm{S}_1}$', ha='left', va='center', fontsize=8)
ax.text(2.02, 1.38, 'R$^1_{\\mathrm{S}_2}$', ha='left', va='center', fontsize=8)
ax.text(8.97, 0.2, 'T$_1$', ha='left', va='center', **tk)
ax.text(8.7, 0.02, 'T$_2$', ha='right', va='center', **tk)

# D annotation
ax = axes[3]
ax.annotate('Σ$_s$', xy=(7.37, 0.64), xytext=(8.05, 0.9), ha='left', va='center', arrowprops=arr, fontsize=7)

# J inset
ax = axes[9]
ins = ax.inset_axes([0.723, 0.0, 0.277, 0.234])
ins.set_xlim(1.899, 1.9015)
ins.set_ylim(1.4088, 1.4108)
ins.set_xticks([])
ins.set_yticks([])
ins.plot(*xy(J_zoom_thin), color=GRAY, lw=0.8)
ins.plot(*xy(J_zoom_thick), color='k', lw=1.6)
ins.plot(*R_S2, 'o', ms=4.5, mfc=RED, mec='#701010', mew=0.5)
for s in ins.spines.values():
    s.set_linewidth(0.6)

# K annotation
ax = axes[10]
ax.annotate('T$_2$(R$_0$,R$^1_{\\mathrm{S}_2}$)', xy=(1.896, 1.416), xytext=(1.866, 1.505),
            ha='center', va='center', fontsize=7,
            arrowprops=dict(arrowstyle='-', color='k', lw=0.6))

# L inset + yellow point
ax = axes[11]
ax.plot(L_ET, 1.425, 'o', ms=4, mfc='#f0f020', mec='#c09020', mew=0.6, zorder=8)
ins = ax.inset_axes([0.768, 0.0, 0.232, 0.245])
ins.set_xlim(1.8983, 1.9019)
ins.set_ylim(1.4078, 1.4118)
ins.set_xticks([])
ins.set_yticks([])
switching_line(ins, L_ET)
ins.plot(*xy(L_zoom_slide), color='k', lw=2.6)
ins.plot(*xy(L_zoom_loop), color='k', lw=1.6)
head(ins, L_zoom_loop[7], L_zoom_loop[8], ms=8)
head(ins, (L_ET, 1.4110), (L_ET, 1.41056), ms=9, width=0.35)
ins.plot(*R_S2, 'o', ms=4.5, mfc=RED, mec='#701010', mew=0.5, zorder=7)
ins.plot(*L_zoom_slide[0], 'o', ms=4, mfc=GREEN, mec='#e09040', mew=0.6, zorder=7)
for s in ins.spines.values():
    s.set_linewidth(0.6)

# M: R0
ax = axes[12]
ax.plot(*M_R0, 'o', ms=4, mfc='#f0f020', mec='#c09020', mew=0.6, zorder=8)
ax.annotate('R$_0$', xy=(1.803, 1.648), xytext=(1.845, 1.668), ha='left', va='center', fontsize=7,
            arrowprops=arr)

# N: T1
ax = axes[13]
ax.plot(*N_T1, 'o', ms=4.5, mfc='#f0f020', mec='#c09020', mew=0.6, zorder=8)
ax.annotate('T$_1$ (R$_0$,R$^2_{\\mathrm{S}_1}$)', xy=(1.72, 1.728), xytext=(1.76, 1.665),
            ha='left', va='center', fontsize=7, arrowprops=arr)

fig.savefig('out.png', dpi=100)
